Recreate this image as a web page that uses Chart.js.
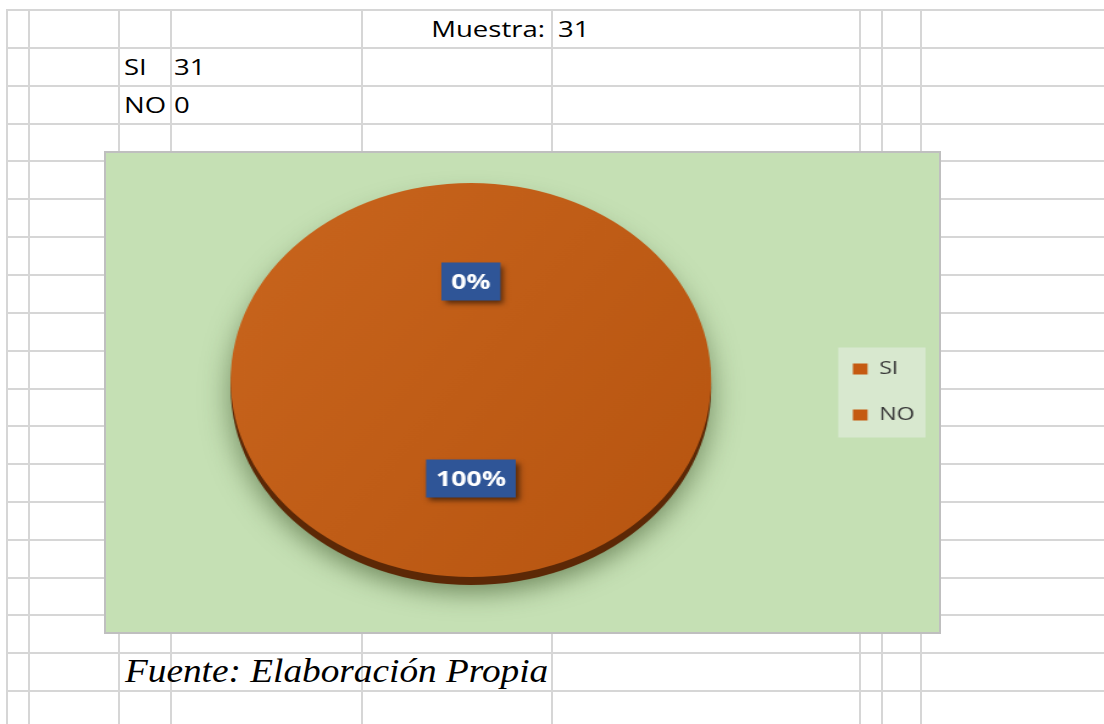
<!DOCTYPE html>
<html lang="es">
<head>
<meta charset="utf-8">
<title>Muestra SI / NO</title>
<script src="https://cdn.jsdelivr.net/npm/chart.js@4.4.1/dist/chart.umd.min.js"></script>
<style>
    html, body { margin: 0; padding: 0; background: #fff; }
    #sheet { position: relative; width: 1104px; height: 724px; overflow: hidden; font-family: 'Open Sans', sans-serif; color: #000; }
    .hline { position: absolute; height: 2px; background: #D6D6D6; }
    .vline { position: absolute; width: 2px; background: #D6D6D6; }
    .cell { position: absolute; height: 38px; font-size: 22px; line-height: 38px; white-space: nowrap; transform-origin: 0 50%; transform: scaleX(1.25); }
    .cell.right { transform-origin: 100% 50%; text-align: right; }
    #fuente { font-family: 'Liberation Serif', serif; font-style: italic; font-size: 33px; transform: scaleX(1.13); }
    #panel { position: absolute; left: 104px; top: 151px; width: 833px; height: 479px; background: #C5E0B4; border: 2px solid #BFBFBF; }
    #chartBox { position: absolute; left: 0; top: 0; width: 683px; height: 479px; transform-origin: 0 0; transform: scaleX(1.2196); }
</style>
</head>
<body>
<div id="sheet">
    <div id="panel"><div id="chartBox"><canvas id="pie"></canvas></div></div>
</div>

<script>
    // ── Data ───────────────────────────────────────
    const CATEGORIES = ['SI', 'NO'];
    const RESPUESTAS = [31, 0];
    const MUESTRA = 31;
    const FUENTE = 'Fuente: Elaboración Propia';

    // ── Look ───────────────────────────────────────
    const ORANGE = '#C55A11';
    const FACE_TOP = '#CB671F';
    const FACE_BOTTOM = '#B4520E';
    const SIDE = '#5C2806';
    const LABEL_BG = '#2F5597';
    const LEGEND_BG = '#D8E8CF';
    const LIFT = 12;      // top face sits above the centre of the 3D block
    const DEPTH = 8;      // thickness of the pie edge

    // ── Spreadsheet grid ───────────────────────────
    const sheet = document.getElementById('sheet');
    const ROW_Y = [9, 47, 85, 123, 160, 198, 236, 274, 312, 350, 388, 425, 463, 501, 539, 577, 614, 652, 690];
    const COL_X = [6, 28, 118, 170, 361, 551, 859, 881, 920];
    const panel = document.getElementById('panel');

    ROW_Y.forEach(y => {
        const d = document.createElement('div');
        d.className = 'hline';
        d.style.cssText = `left:6px;top:${y}px;width:1098px;`;
        sheet.insertBefore(d, panel);
    });
    COL_X.forEach(x => {
        const d = document.createElement('div');
        d.className = 'vline';
        d.style.cssText = `left:${x}px;top:9px;height:715px;`;
        sheet.insertBefore(d, panel);
    });

    function addCell(text, left, top, opts) {
        const d = document.createElement('div');
        d.className = 'cell' + (opts && opts.right ? ' right' : '');
        if (opts && opts.id) d.id = opts.id;
        d.textContent = text;
        if (opts && opts.right) d.style.right = (1104 - left) + 'px';
        else d.style.left = left + 'px';
        d.style.top = top + 'px';
        sheet.appendChild(d);
    }

    addCell('Muestra:', 545, 9, { right: true });
    addCell(String(MUESTRA), 558, 9);
    CATEGORIES.forEach((c, i) => {
        addCell(c, 124, 47 + i * 38);
        addCell(String(RESPUESTAS[i]), 174, 47 + i * 38);
    });
    addCell(FUENTE, 125, 652, { id: 'fuente' });

    // ── 3D look, legend box and value labels ───────
    const pie3d = {
        id: 'pie3d',
        beforeDraw(chart) {
            const boxes = chart.legend && chart.legend.legendHitBoxes;
            if (!boxes || !boxes.length) return;
            const left = Math.min(...boxes.map(b => b.left)) - 12;
            const right = Math.max(...boxes.map(b => b.left + b.width)) + 9;
            const top = boxes[0].top - 12;
            const last = boxes[boxes.length - 1];
            const bottom = last.top + last.height + 13;
            chart.ctx.save();
            chart.ctx.fillStyle = LEGEND_BG;
            chart.ctx.fillRect(left, top, right - left, bottom - top);
            chart.ctx.restore();
        },
        beforeDatasetsDraw(chart) {
            const arc = chart.getDatasetMeta(0).data[0];
            const ctx = chart.ctx;
            ctx.save();
            ctx.translate(0, -LIFT);
            ctx.save();
            ctx.shadowColor = 'rgba(45, 70, 25, 0.55)';
            ctx.shadowBlur = 24;
            ctx.shadowOffsetY = 8;
            ctx.fillStyle = SIDE;
            ctx.beginPath();
            ctx.arc(arc.x, arc.y + DEPTH, arc.outerRadius, 0, Math.PI * 2);
            ctx.fill();
            ctx.restore();
        },
        afterDatasetsDraw(chart) {
            const ctx = chart.ctx;
            ctx.restore();
            const data = chart.data.datasets[0].data;
            const total = data.reduce((a, b) => a + b, 0);
            chart.getDatasetMeta(0).data.forEach((arc, i) => {
                const p = arc.tooltipPosition();
                const txt = Math.round(data[i] / total * 100) + '%';
                ctx.save();
                ctx.font = 'bold 22px "Open Sans"';
                const w = ctx.measureText(txt).width + 16;
                const h = 38;
                const x = p.x - w / 2;
                const y = p.y - LIFT - h / 2;
                ctx.shadowColor = 'rgba(0, 0, 0, 0.55)';
                ctx.shadowBlur = 5;
                ctx.shadowOffsetX = 3;
                ctx.shadowOffsetY = 3;
                ctx.fillStyle = LABEL_BG;
                ctx.fillRect(x, y, w, h);
                ctx.shadowColor = 'transparent';
                ctx.fillStyle = '#FFFFFF';
                ctx.textAlign = 'center';
                ctx.textBaseline = 'middle';
                ctx.fillText(txt, p.x, y + h / 2 + 1);
                ctx.restore();
            });
        }
    };

    function faceGradient(context) {
        const area = context.chart.chartArea;
        if (!area) return ORANGE;
        const g = context.chart.ctx.createLinearGradient(area.left, area.top, area.right, area.bottom);
        g.addColorStop(0, FACE_TOP);
        g.addColorStop(1, FACE_BOTTOM);
        return g;
    }

    new Chart(document.getElementById('pie'), {
        type: 'pie',
        data: {
            labels: CATEGORIES,
            datasets: [{
                data: RESPUESTAS,
                backgroundColor: faceGradient,
                borderWidth: 0
            }]
        },
        options: {
            responsive: true,
            maintainAspectRatio: false,
            animation: false,
            layout: { padding: { left: 13, right: 10, top: 42, bottom: 43 } },
            plugins: {
                legend: {
                    position: 'right',
                    labels: {
                        boxWidth: 12,
                        boxHeight: 11,
                        padding: 27,
                        color: '#3A3A3A',
                        font: { size: 19, family: "'Open Sans', sans-serif" },
                        generateLabels(chart) {
                            return Chart.overrides.pie.plugins.legend.labels.generateLabels(chart)
                                .map(l => Object.assign(l, { fillStyle: ORANGE, strokeStyle: ORANGE, lineWidth: 0 }));
                        }
                    }
                },
                tooltip: { enabled: false }
            }
        },
        plugins: [pie3d]
    });
</script>
</body>
</html>
